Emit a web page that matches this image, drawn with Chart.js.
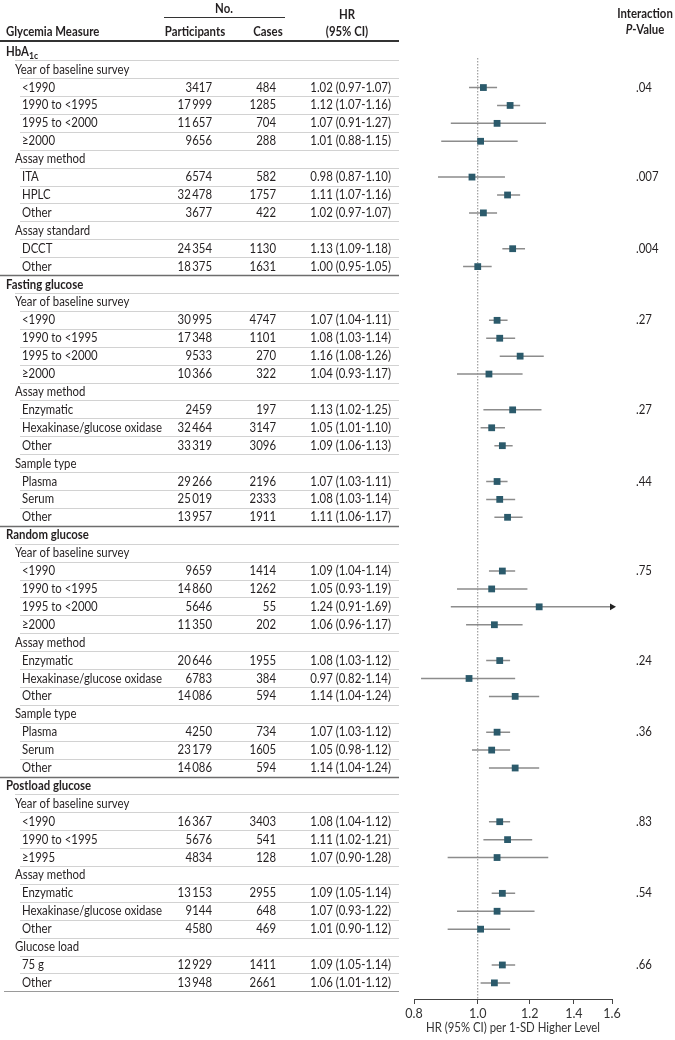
<!DOCTYPE html>
<html>
<head>
<meta charset="utf-8">
<script src="https://cdn.jsdelivr.net/npm/chart.js@4.4.0/dist/chart.umd.min.js"></script>
<style>
  body { margin: 0; background: #fff; }
  #wrap { width: 675px; height: 1040px; position: relative; }
</style>
</head>
<body>
<div id="wrap"><canvas id="forest"></canvas></div>
<script>
// level: 0 = measure, 1 = subgroup heading, 2 = stratum
const rowLabels = [
  'HbA1c', 'Year of baseline survey', '<1990', '1990 to <1995', '1995 to <2000', '\u22652000',
  'Assay method', 'ITA', 'HPLC', 'Other', 'Assay standard', 'DCCT', 'Other',
  'Fasting glucose', 'Year of baseline survey', '<1990', '1990 to <1995', '1995 to <2000', '\u22652000',
  'Assay method', 'Enzymatic', 'Hexakinase/glucose oxidase', 'Other', 'Sample type', 'Plasma', 'Serum', 'Other',
  'Random glucose', 'Year of baseline survey', '<1990', '1990 to <1995', '1995 to <2000', '\u22652000',
  'Assay method', 'Enzymatic', 'Hexakinase/glucose oxidase', 'Other', 'Sample type', 'Plasma', 'Serum', 'Other',
  'Postload glucose', 'Year of baseline survey', '<1990', '1990 to <1995', '\u22651995',
  'Assay method', 'Enzymatic', 'Hexakinase/glucose oxidase', 'Other', 'Glucose load', '75 g', 'Other'
];
const rowLevels = [
  0, 1, 2, 2, 2, 2, 1, 2, 2, 2, 1, 2, 2,
  0, 1, 2, 2, 2, 2, 1, 2, 2, 2, 1, 2, 2, 2,
  0, 1, 2, 2, 2, 2, 1, 2, 2, 2, 1, 2, 2, 2,
  0, 1, 2, 2, 2, 1, 2, 2, 2, 1, 2, 2
];
const participants = [
  null, null, 3417, 17999, 11657, 9656, null, 6574, 32478, 3677, null, 24354, 18375,
  null, null, 30995, 17348, 9533, 10366, null, 2459, 32464, 33319, null, 29266, 25019, 13957,
  null, null, 9659, 14860, 5646, 11350, null, 20646, 6783, 14086, null, 4250, 23179, 14086,
  null, null, 16367, 5676, 4834, null, 13153, 9144, 4580, null, 12929, 13948
];
const cases = [
  null, null, 484, 1285, 704, 288, null, 582, 1757, 422, null, 1130, 1631,
  null, null, 4747, 1101, 270, 322, null, 197, 3147, 3096, null, 2196, 2333, 1911,
  null, null, 1414, 1262, 55, 202, null, 1955, 384, 594, null, 734, 1605, 594,
  null, null, 3403, 541, 128, null, 2955, 648, 469, null, 1411, 2661
];
const hr = [
  null, null, 1.02, 1.12, 1.07, 1.01, null, 0.98, 1.11, 1.02, null, 1.13, 1.00,
  null, null, 1.07, 1.08, 1.16, 1.04, null, 1.13, 1.05, 1.09, null, 1.07, 1.08, 1.11,
  null, null, 1.09, 1.05, 1.24, 1.06, null, 1.08, 0.97, 1.14, null, 1.07, 1.05, 1.14,
  null, null, 1.08, 1.11, 1.07, null, 1.09, 1.07, 1.01, null, 1.09, 1.06
];
const ciLow = [
  null, null, 0.97, 1.07, 0.91, 0.88, null, 0.87, 1.07, 0.97, null, 1.09, 0.95,
  null, null, 1.04, 1.03, 1.08, 0.93, null, 1.02, 1.01, 1.06, null, 1.03, 1.03, 1.06,
  null, null, 1.04, 0.93, 0.91, 0.96, null, 1.03, 0.82, 1.04, null, 1.03, 0.98, 1.04,
  null, null, 1.04, 1.02, 0.90, null, 1.05, 0.93, 0.90, null, 1.05, 1.01
];
const ciHigh = [
  null, null, 1.07, 1.16, 1.27, 1.15, null, 1.10, 1.16, 1.07, null, 1.18, 1.05,
  null, null, 1.11, 1.14, 1.26, 1.17, null, 1.25, 1.10, 1.13, null, 1.11, 1.14, 1.17,
  null, null, 1.14, 1.19, 1.69, 1.17, null, 1.12, 1.14, 1.24, null, 1.12, 1.12, 1.24,
  null, null, 1.12, 1.21, 1.28, null, 1.14, 1.22, 1.12, null, 1.14, 1.12
];
const pValues = [
  null, null, '.04', null, null, null, null, '.007', null, null, null, '.004', null,
  null, null, '.27', null, null, null, null, '.27', null, null, null, '.44', null, null,
  null, null, '.75', null, null, null, null, '.24', null, null, null, '.36', null, null,
  null, null, '.83', null, null, null, '.54', null, null, null, '.66', null
];
const xTicks = [0.8, 1.0, 1.2, 1.4, 1.6];
const xMin = 0.8, xMax = 1.6;
const xTitle = 'HR (95% CI) per 1-SD Higher Level';

const FONT = 'Lato, "Liberation Sans", sans-serif';
const FS = 12.5;
const TXT = '#231f20';

const nRows = rowLabels.length;
const yMin = 0.35, yMax = nRows - 0.1;

// marker and CI data built from the arrays
const markerPts = [], ciPts = [], arrowPts = [];
for (let i = 0; i < nRows; i++) {
  if (hr[i] == null) continue;
  markerPts.push({ x: hr[i], y: i });
  ciPts.push({ x: ciLow[i], y: i }, { x: ciHigh[i], y: i }, { x: null, y: null });
  if (ciHigh[i] > xMax) arrowPts.push({ x: xMax, y: i });
}

function fmtN(n) {
  if (n == null) return '';
  return n >= 10000 ? String(n).replace(/\B(?=(\d{3})+(?!\d))/g, '\u2009') : String(n);
}

let sx = 1;
// draw text squeezed horizontally (reference face is condensed)
function txt(ctx, s, x, y, align, font) {
  ctx.font = font;
  const w = ctx.measureText(s).width * sx;
  let left = x;
  if (align === 'center') left = x - w / 2;
  else if (align === 'right') left = x - w;
  ctx.save();
  ctx.translate(left, y);
  ctx.scale(sx, 1);
  ctx.textAlign = 'left';
  ctx.fillText(s, 0, 0);
  ctx.restore();
  return w;
}

const tablePlugin = {
  id: 'tableText',
  afterDraw(chart) {
    const ctx = chart.ctx;
    const ys = chart.scales.y;
    const xs = chart.scales.x;
    const reg = FS + 'px ' + FONT;
    const bold = 'bold ' + FS + 'px ' + FONT;
    ctx.save();
    ctx.font = reg;
    sx = 140 / ctx.measureText('Hexakinase/glucose oxidase').width;
    ctx.textBaseline = 'middle';
    ctx.fillStyle = TXT;

    // header
    txt(ctx, 'No.', 224, 9, 'center', bold);
    txt(ctx, 'HR', 347, 15, 'center', bold);
    txt(ctx, '(95% CI)', 347, 32, 'center', bold);
    txt(ctx, 'Participants', 195, 32, 'center', bold);
    txt(ctx, 'Cases', 268, 32, 'center', bold);
    txt(ctx, 'Interaction', 645, 14, 'center', bold);
    txt(ctx, 'Glycemia Measure', 6, 32, 'left', bold);
    ctx.font = 'bold italic ' + FS + 'px ' + FONT;
    const pw = ctx.measureText('P').width * sx;
    ctx.font = bold;
    const vw = ctx.measureText('-Value').width * sx;
    const px0 = 645 - (pw + vw) / 2;
    txt(ctx, 'P', px0, 30, 'left', 'bold italic ' + FS + 'px ' + FONT);
    txt(ctx, '-Value', px0 + pw, 30, 'left', bold);

    ctx.strokeStyle = '#333';
    ctx.lineWidth = 1;
    ctx.beginPath(); ctx.moveTo(164, 17.5); ctx.lineTo(285, 17.5); ctx.stroke();
    ctx.lineWidth = 2;
    ctx.beginPath(); ctx.moveTo(0, 41); ctx.lineTo(399, 41); ctx.stroke();

    for (let i = 0; i < nRows; i++) {
      const y = ys.getPixelForValue(i);
      const lvl = rowLevels[i];
      ctx.fillStyle = TXT;
      if (lvl === 0) {
        if (rowLabels[i] === 'HbA1c') {
          const w = txt(ctx, 'HbA', 6, y, 'left', bold);
          txt(ctx, '1c', 6 + w, y + 4, 'left', 'bold 9.5px ' + FONT);
        } else {
          txt(ctx, rowLabels[i], 6, y, 'left', bold);
        }
      } else {
        txt(ctx, rowLabels[i], lvl === 1 ? 15 : 22, y, 'left', reg);
        if (lvl === 2) {
          txt(ctx, fmtN(participants[i]), 212, y, 'right', reg);
          txt(ctx, fmtN(cases[i]), 276, y, 'right', reg);
          txt(ctx, hr[i].toFixed(2) + ' (' + ciLow[i].toFixed(2) + '-' + ciHigh[i].toFixed(2) + ')', 391, y, 'right', reg);
        }
      }
      if (pValues[i]) txt(ctx, pValues[i], 636, y, 'left', reg);

      // row rule
      const ly = Math.round(y + 8.5) + 0.5;
      const lastOfMeasure = i === nRows - 1 || rowLevels[i + 1] === 0;
      ctx.beginPath();
      if (lastOfMeasure) {
        ctx.strokeStyle = i === nRows - 1 ? '#9a9a9a' : '#6d6d6d';
        ctx.lineWidth = i === nRows - 1 ? 1 : 1.5;
        ctx.moveTo(i === nRows - 1 ? 4 : 0, ly);
      } else {
        ctx.strokeStyle = '#d2d2d2';
        ctx.lineWidth = 1;
        ctx.moveTo(lvl === 0 ? 15 : 20, ly);
      }
      ctx.lineTo(399, ly);
      ctx.stroke();
    }

    // axis title, centred under the x scale
    ctx.fillStyle = '#333';
    txt(ctx, xTitle, (xs.left + xs.right) / 2, 1028, 'center', reg);
    ctx.restore();
  }
};

new Chart(document.getElementById('forest'), {
  type: 'scatter',
  data: {
    datasets: [
      {
        label: 'HR',
        data: markerPts,
        pointStyle: 'rect',
        pointRadius: 4.8,
        pointHoverRadius: 4.8,
        backgroundColor: '#2b5a6b',
        borderColor: '#2b5a6b',
        borderWidth: 0,
        order: 0
      },
      {
        label: 'arrow',
        data: arrowPts,
        pointStyle: 'triangle',
        rotation: 90,
        pointRadius: 4,
        backgroundColor: '#222',
        borderColor: '#222',
        borderWidth: 0,
        clip: false,
        order: 1
      },
      {
        label: '95% CI',
        data: ciPts,
        showLine: true,
        spanGaps: false,
        pointRadius: 0,
        borderColor: '#8c8c8c',
        borderWidth: 1.5,
        order: 2
      },
      {
        label: 'ref',
        data: [{ x: 1, y: yMin }, { x: 1, y: yMax }],
        showLine: true,
        pointRadius: 0,
        borderColor: '#888',
        borderWidth: 1,
        borderDash: [1.5, 1.5],
        order: 3
      }
    ]
  },
  options: {
    responsive: true,
    maintainAspectRatio: false,
    animation: false,
    layout: { padding: { left: 414, right: 63, top: 58, bottom: 0 } },
    plugins: { legend: { display: false }, tooltip: { enabled: false } },
    scales: {
      x: {
        type: 'logarithmic',
        min: xMin,
        max: xMax,
        afterBuildTicks: s => { s.ticks = xTicks.map(v => ({ value: v })); },
        afterFit: s => { s.height = 41; },
        ticks: {
          callback: v => Number(v).toFixed(1),
          color: '#333',
          font: { family: FONT, size: FS },
          padding: 2,
          maxRotation: 0,
          autoSkip: false
        },
        grid: { drawOnChartArea: false, drawTicks: true, tickLength: 5, color: '#444' },
        border: { color: '#444', width: 1 }
      },
      y: {
        type: 'linear',
        reverse: true,
        min: yMin,
        max: yMax,
        display: false
      }
    }
  },
  plugins: [tablePlugin]
});
</script>
</body>
</html>
